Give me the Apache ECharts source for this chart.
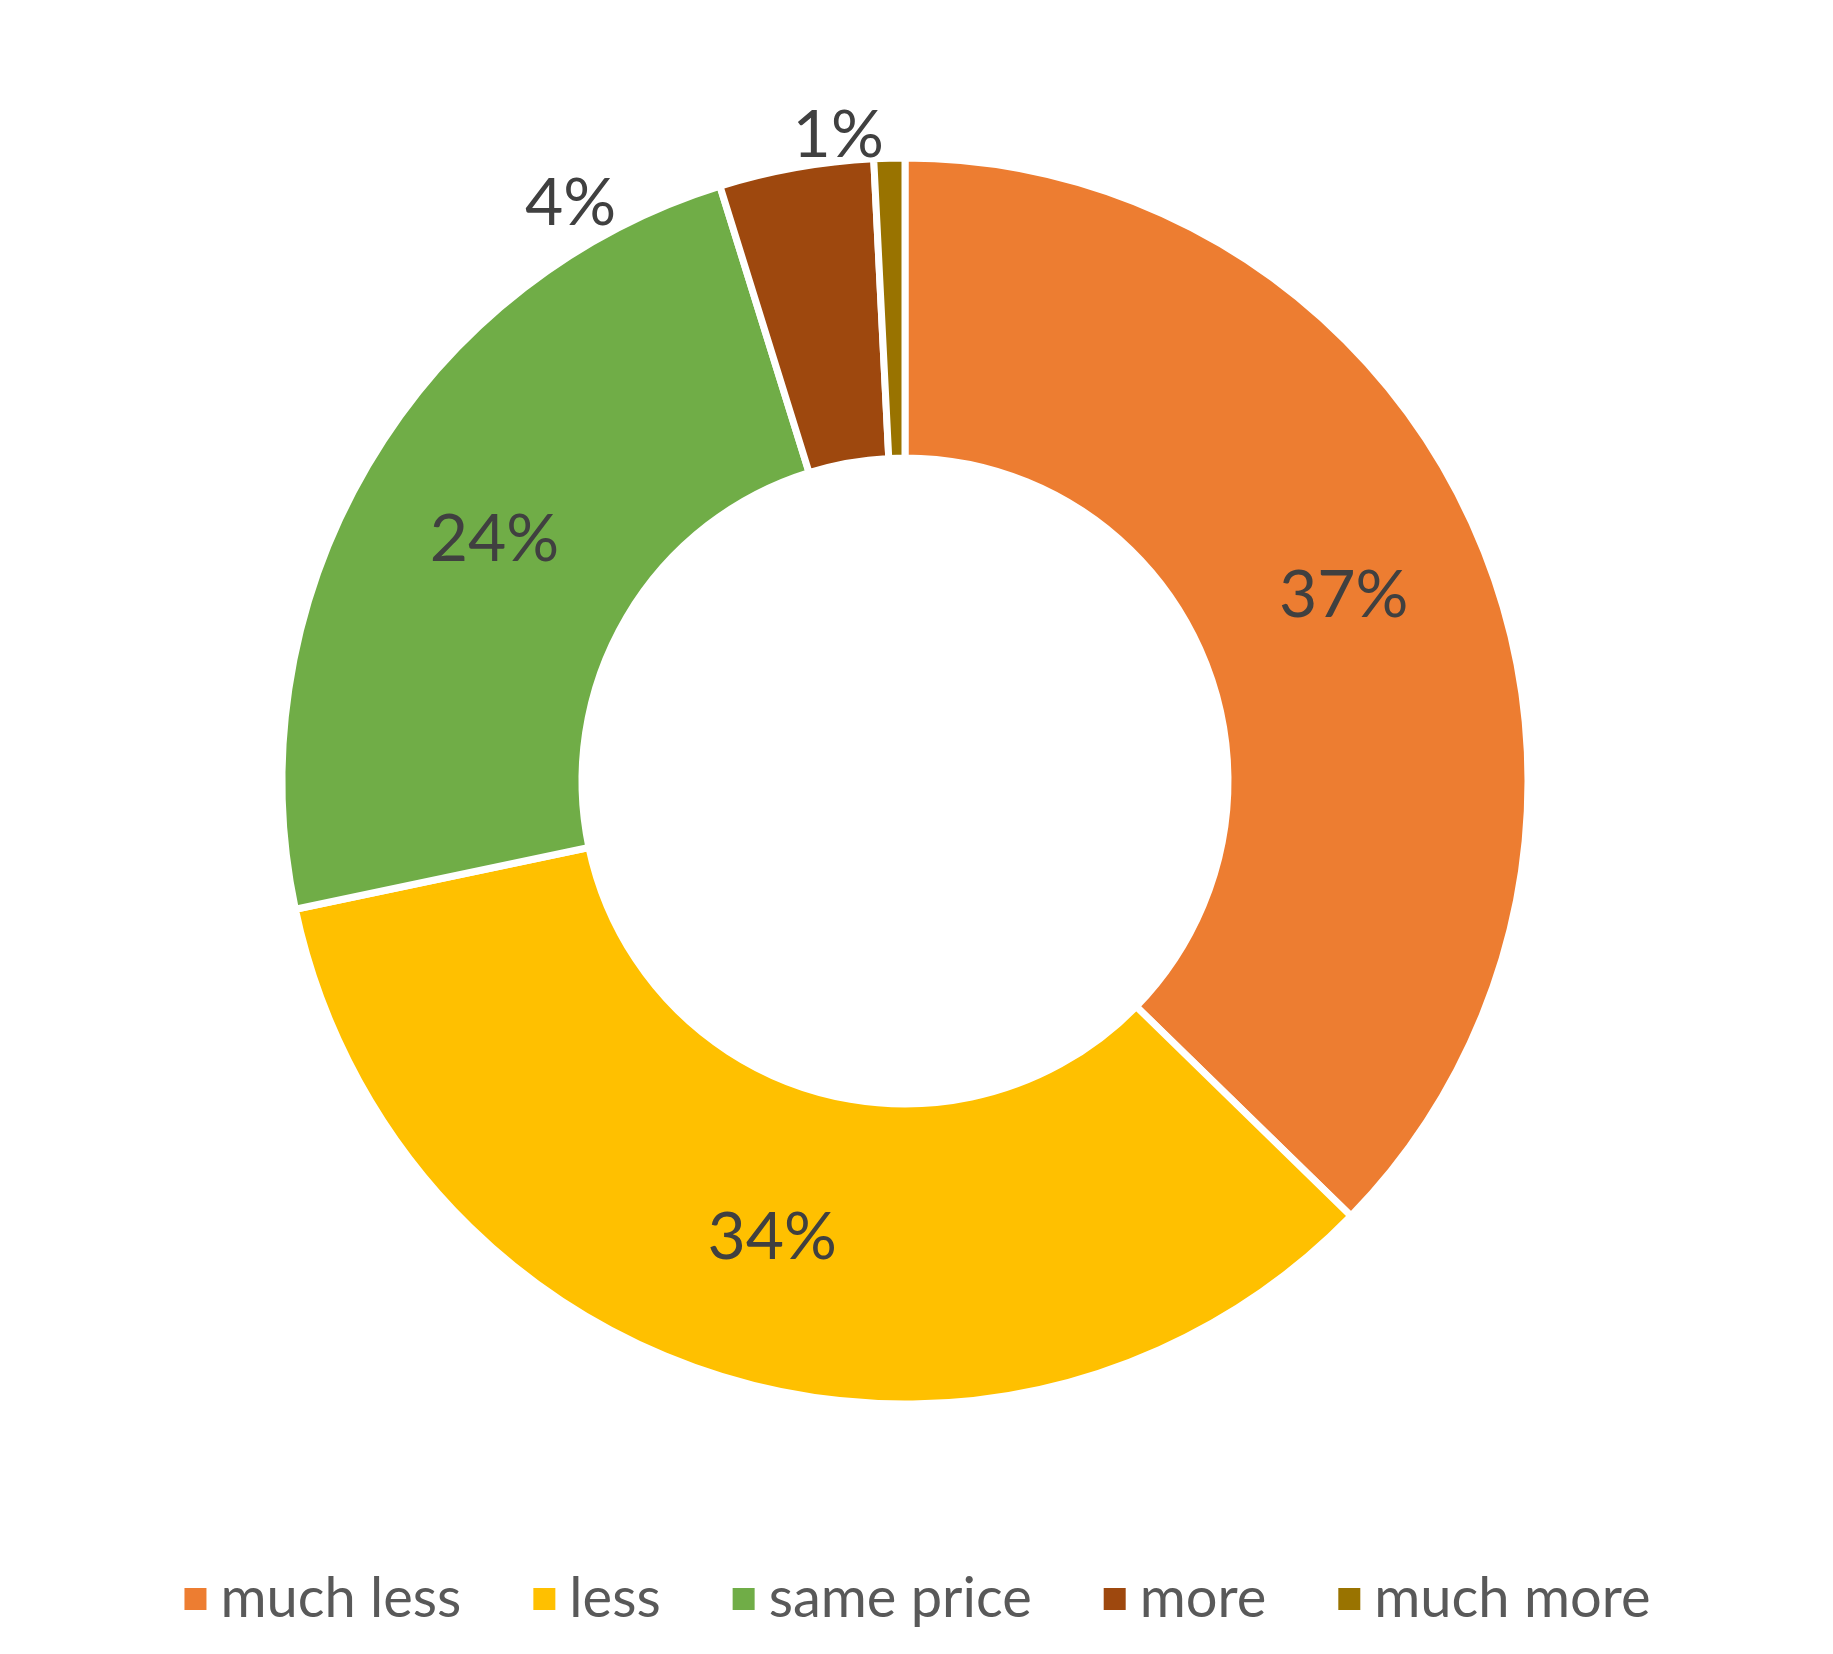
<!DOCTYPE html>
<html>
<head>
<meta charset="utf-8">
<script src="https://cdn.jsdelivr.net/npm/echarts@6/dist/echarts.min.js"></script>
<style>html,body{margin:0;padding:0;background:#fff}#main{width:1833px;height:1654px}</style>
</head>
<body>
<div id="main"></div>
<script>
const categories = ['much less', 'less', 'same price', 'more', 'much more'];
const values = [37.3, 34.4, 23.5, 4.0, 0.8];
const colors = ['#ED7D31', '#FFC000', '#70AD47', '#9E480E', '#997300'];

const chart = echarts.init(document.getElementById('main'));
const font = 'Lato, "Open Sans", sans-serif';

const data = categories.map(function (name, i) {
  const small = values[i] < 10;
  return {
    name: name,
    value: values[i],
    itemStyle: { color: colors[i] },
    label: small
      ? { position: 'outside', distance: 10 }
      : { position: 'inside' }
  };
});

chart.setOption({
  animation: false,
  legend: {
    bottom: 22,
    left: 'center',
    itemWidth: 24,
    itemHeight: 24,
    itemGap: 70,
    icon: 'rect',
    textStyle: { fontSize: 56, color: '#595959', fontFamily: font, padding: [0, 0, 0, 8] },
    data: categories
  },
  series: [{
    type: 'pie',
    center: [905, 781],
    radius: [323, 623],
    startAngle: 90,
    clockwise: true,
    itemStyle: { borderColor: '#fff', borderWidth: 7 },
    labelLine: { show: false, length: 22, length2: 0 },
    label: {
      fontSize: 66,
      color: '#404040',
      fontFamily: font,
      formatter: function (p) { return Math.round(p.percent) + '%'; }
    },
    data: data
  }]
});
</script>
</body>
</html>
